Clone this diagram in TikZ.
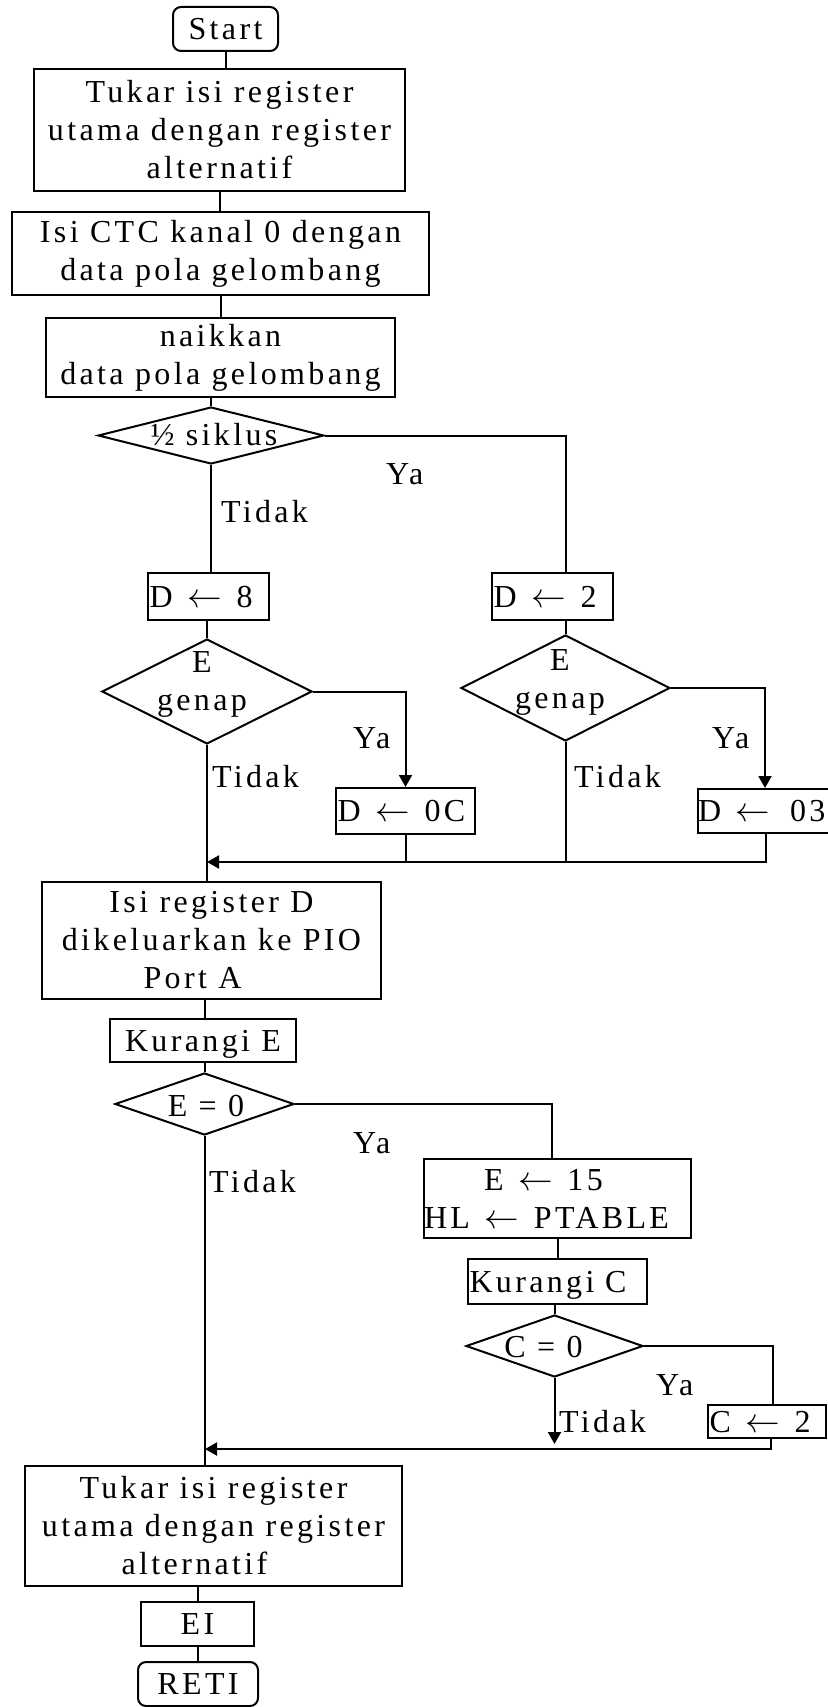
\documentclass[tikz,border=0pt]{standalone}
\usepackage{fontspec}
\setmainfont{Liberation Serif}[LetterSpace=10.5]
\usetikzlibrary{shapes.geometric,arrows.meta}
\newcommand{\lar}{\hspace{2pt}$\leftarrow$\hspace{2pt}}
\tikzset{
  sz/.style n args={2}{minimum width=#1*0.5pt,minimum height=#2*0.5pt},
  box/.style={draw,rectangle,inner sep=0pt},
  one/.style={text height=10.5pt,text depth=0pt},
  lbox/.style={box,one,align=left,inner xsep=0.75pt},
  rbox/.style={box,one,rounded corners=4pt},
  dia/.style={draw,diamond,inner sep=0pt},
  lbl/.style={anchor=base west,inner sep=0pt},
  dtxt/.style={inner sep=0pt},
  arr/.style={-{Triangle[length=6pt,width=6.5pt]}}
}
\begin{document}
\begin{tikzpicture}[x=0.5pt,y=-0.5pt,line width=1pt,
  every node/.style={font=\fontsize{16}{19}\selectfont}]
\useasboundingbox (0,0) rectangle (827,1707);

% nodes
\node[rbox,sz={105}{44}] (start) at (225.5,29) {Start};
\node[box,sz={371}{122},align=center] (b1) at (219.5,130) {Tukar isi register\\utama dengan register\\alternatif};
\node[box,sz={417}{83},align=center] (b2) at (220.5,253.5) {Isi CTC kanal 0 dengan\\data pola gelombang};
\node[box,sz={349}{79},align=center] (b3) at (220.5,357.5) {naikkan\\data pola gelombang};
\node[dia,sz={226}{57}] (d1) at (211,435.5) {};
\node[dtxt,anchor=base] (d1t) at (214,445) {½ siklus};
\node[lbox,sz={121}{47},text width=59pt] (dl) at (208.5,596.5) {D \lar{} 8};
\node[lbox,sz={121}{47},text width=59pt] (dr) at (552.5,596.5) {D \lar{} 2};
\node[dia,sz={210}{105}] (e1) at (207,691.5) {};
\node[dtxt,align=center] (e1t) at (202,684) {E\\genap};
\node[dia,sz={209}{106}] (e2) at (565.5,688) {};
\node[dtxt,align=center] (e2t) at (560,682) {E\\genap};
\node[lbox,sz={139}{46},text width=68pt] (d0c) at (405.5,811) {D \lar{} 0C};
\node[lbox,sz={142}{44},inner xsep=0pt,text width=71pt] (d03) at (769,811) {D \lar\hspace{2.5pt} 03};
\node[box,sz={339}{117},align=center] (pio) at (211.5,940.5) {Isi register D\\dikeluarkan ke PIO\\Port A\hspace*{19pt}};
\node[box,one,sz={186}{43}] (kurE) at (203,1040.5) {Kurangi E};
\node[dia,sz={179}{62}] (e0) at (204.5,1104) {};
\node[dtxt,anchor=base] (e0t) at (206,1116) {E = 0};
\node[box,sz={267}{79},align=left,text width=133.5pt] (e15) at (557.5,1198.5) {\hspace*{30pt}E \lar{} 15\\HL \lar{} PTABLE};
\node[lbox,sz={179}{45},text width=88pt] (kurC) at (557.5,1281.5) {Kurangi C};
\node[dia,sz={177}{62}] (c0) at (554.5,1346) {};
\node[dtxt,anchor=base] (c0t) at (543.5,1357) {C = 0};
\node[lbox,sz={118}{33},text width=57.5pt] (c2) at (767,1421.5) {C \lar{} 2};
\node[box,sz={377}{120},align=center] (b4) at (213.5,1526) {Tukar isi register\\utama dengan register\\alternatif\hspace*{19pt}};
\node[box,one,sz={113}{44}] (ei) at (197.5,1624) {EI};
\node[rbox,sz={120}{44}] (reti) at (198,1684) {RETI};

% labels
\node[lbl] (ya1) at (385,484) {Ya};
\node[lbl] (td1) at (220,522) {Tidak};
\node[lbl] (ya2) at (352,748) {Ya};
\node[lbl] (td2) at (211,787) {Tidak};
\node[lbl] (ya3) at (711,748) {Ya};
\node[lbl] (td3) at (573,787) {Tidak};
\node[lbl] (ya4) at (352,1153) {Ya};
\node[lbl] (td4) at (208,1192) {Tidak};
\node[lbl] (ya5) at (655,1395) {Ya};
\node[lbl] (td5) at (558,1432) {Tidak};

% merge points
\coordinate (m1) at (207,862);
\coordinate (m2) at (205,1449);
\coordinate (c0e) at (554.5,1444);

% connectors
\draw (start.south) -- (start.south |- b1.north);
\draw (b1.south) -- (b1.south |- b2.north);
\draw (b2.south) -- (b2.south |- b3.north);
\draw (d1.north |- b3.south) -- (d1.north);
\draw (d1.east) -| ([xshift=6.75pt]dr.north);
\draw (d1.south) -- (d1.south |- dl.north);
\draw (e1.north |- dl.south) -- (e1.north);
\draw[arr] (e1.east) -| (d0c.north);
\draw (e2.north |- dr.south) -- (e2.north);
\draw[arr] (e2.east) -| ([xshift=-2pt]d03.north);
\draw (e1.south) -- (e1.south |- pio.north);
\draw (d0c.south) -- (d0c.south |- m1);
\draw (e2.south) -- (e2.south |- m1);
\draw[arr] ([xshift=-1.5pt]d03.south) |- (m1);
\draw (pio.south -| m2) -- (kurE.north -| m2);
\draw (e0.north |- kurE.south) -- (e0.north);
\draw (e0.east) -| ([xshift=-2.75pt]e15.north);
\draw (e0.south) -- (e0.south |- b4.north);
\draw (e15.south) -- (e15.south |- kurC.north);
\draw (c0.north |- kurC.south) -- (c0.north);
\draw (c0.east) -| ([xshift=3pt]c2.north);
\draw[arr] (c0.south) -- (c0e);
\draw[arr] ([xshift=2pt]c2.south) |- (m2);
\draw (ei.north |- b4.south) -- (ei.north);
\draw (ei.south) -- (ei.south |- reti.north);
\end{tikzpicture}
\end{document}
